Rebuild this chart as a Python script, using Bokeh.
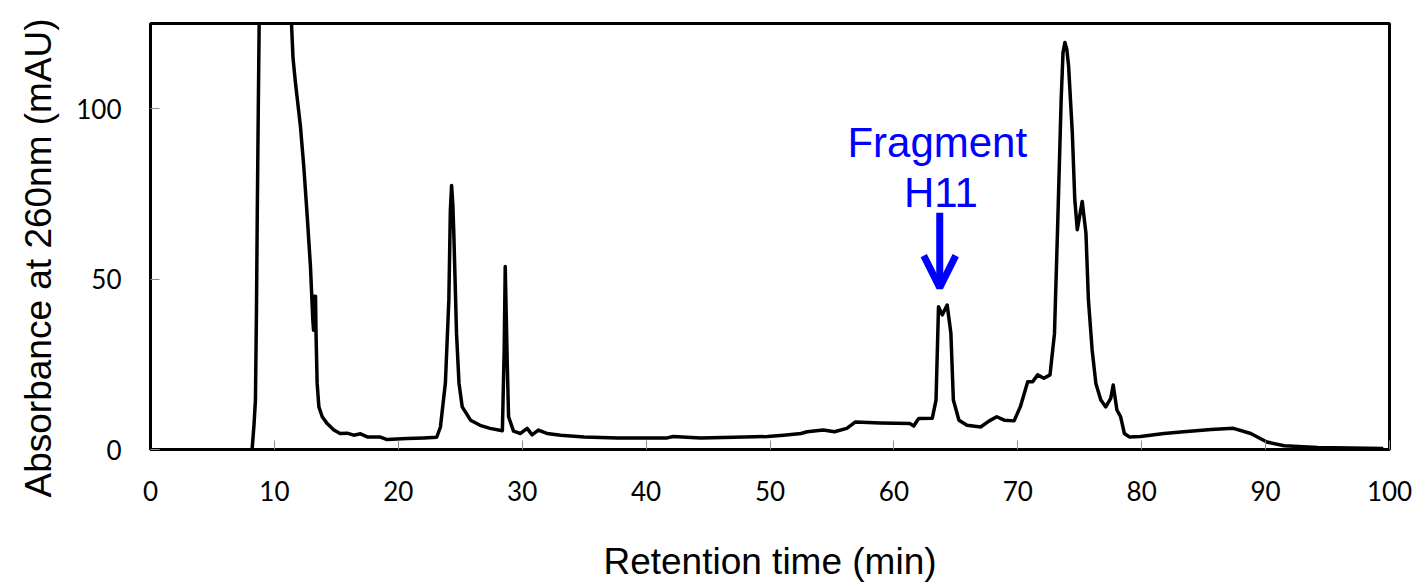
from bokeh.plotting import figure
from bokeh.models import FixedTicker, Label, Arrow, OpenHead, Range1d, Title
from bokeh.embed import file_html
from bokeh.resources import INLINE

# Retention time (min) and absorbance at 260 nm (mAU)
time_min = [8.2, 8.35, 8.47, 8.55, 8.62, 8.7, 8.77, 9.5, 10.5, 11.38, 11.5, 11.7,
            12.1, 12.37, 12.65, 12.91, 13.1, 13.16, 13.22, 13.32, 13.36, 13.45, 13.59,
            13.86, 14.26, 14.8, 15.3, 15.87, 16.4, 16.95, 17.5, 18.5, 19.1, 20.7,
            22.06, 23.1, 23.4, 23.8, 24.08, 24.2, 24.3, 24.4, 24.48, 24.7, 24.9, 25.16,
            25.83, 26.6, 27.4, 28.4, 28.55, 28.63, 28.8, 28.9, 29.3, 29.86, 30.4,
            30.8, 31.3, 32.0, 33.1, 35.0, 37.7, 41.7, 42.2, 44.4, 47.1, 49.8, 51.1,
            52.5, 53.0, 54.3, 55.2, 56.2, 56.9, 58.9, 61.3, 61.6, 62.0, 63.1, 63.4,
            63.6, 63.9, 64.3, 64.6, 64.8, 65.25, 65.9, 67.0, 67.7, 68.3, 68.9, 69.7,
            70.2, 70.8, 71.2, 71.6, 72.1, 72.6, 72.96, 73.2, 73.5, 73.65, 73.8, 73.95,
            74.1, 74.4, 74.6, 74.8, 75.2, 75.5, 75.7, 76.0, 76.3, 76.7, 77.1, 77.5,
            77.7, 78.0, 78.3, 78.6, 79.0, 79.9, 81.8, 83.4, 85.6, 87.4, 88.8, 90.1,
            91.5, 94.2, 99.5]
absorbance = [0.0, 7.0, 14.5, 40.0, 70.0, 100.0, 125.0, 200.0, 200.0, 125.0, 115.0, 107.6,
              94.9, 83.1, 68.4, 53.7, 38.0, 35.0, 45.0, 45.0, 34.0, 19.4, 12.5,
              9.6, 7.6, 5.7, 4.7, 4.8, 4.2, 4.6, 3.7, 3.7, 2.9, 3.2,
              3.4, 3.6, 6.6, 19.5, 43.9, 70.0, 77.5, 72.0, 63.5, 34.0, 19.4, 12.5,
              8.6, 7.1, 6.2, 5.5, 30.0, 53.7, 24.3, 9.6, 5.4, 4.7, 6.2,
              4.3, 5.7, 4.7, 4.2, 3.7, 3.4, 3.4, 3.8, 3.4, 3.6, 3.8, 4.2,
              4.7, 5.2, 5.7, 5.2, 6.2, 8.1, 7.8, 7.6, 6.9, 9.1, 9.2, 14.5,
              41.9, 39.5, 42.4, 34.1, 14.5, 8.6, 7.1, 6.6, 8.4, 9.6, 8.6, 8.4,
              12.5, 19.9, 19.9, 21.9, 20.9, 21.9, 34.0, 63.5, 102.7, 116.5, 119.4, 117.5,
              112.5, 92.9, 73.3, 64.5, 72.8, 63.5, 43.9, 29.2, 19.4, 14.5, 12.5, 15.0,
              18.9, 11.6, 9.6, 4.7, 3.7, 3.8, 4.7, 5.2, 5.9, 6.2, 4.7, 2.2,
              1.1, 0.6, 0.3]

x_ticks = [0, 10, 20, 30, 40, 50, 60, 70, 80, 90, 100]
y_ticks = [0, 50, 100]
x_title = "Retention time (min)"
y_title = "Absorbance at 260nm (mAU)"
annot_line1 = "Fragment"
annot_line2 = "H11"
annot_x = 63.7
annot_arrow_top = 69.5
annot_arrow_tip = 47.5

p = figure(width=1418, height=584, output_backend="svg", toolbar_location=None,
           x_range=Range1d(0, 100), y_range=Range1d(0, 125),
           min_border_left=150, min_border_right=29, min_border_top=23, min_border_bottom=135)
p.background_fill_color = "white"
p.border_fill_color = "white"
p.outline_line_color = "black"
p.outline_line_width = 3
p.grid.visible = False

for ax in (p.xaxis[0], p.yaxis[0]):
    ax.axis_line_color = "black"
    ax.axis_line_width = 3
    ax.major_tick_in = 9
    ax.major_tick_out = 0
    ax.major_tick_line_color = "#8c8c8c"
    ax.major_tick_line_width = 1
    ax.minor_tick_line_color = None
    ax.major_label_text_font = "Lato"
    ax.major_label_text_font_size = "26px"
    ax.major_label_text_color = "black"

p.xaxis.ticker = FixedTicker(ticks=x_ticks)
p.yaxis.ticker = FixedTicker(ticks=y_ticks)
p.xaxis.major_label_standoff = 31
p.yaxis.major_label_standoff = 29

p.xaxis.axis_label = x_title
p.xaxis.axis_label_text_font = "Liberation Sans"
p.xaxis.axis_label_text_font_size = "37px"
p.xaxis.axis_label_text_font_style = "normal"
p.xaxis.axis_label_text_color = "black"
p.xaxis.axis_label_standoff = 37

p.add_layout(Title(text=y_title, align="left", offset=-48, standoff=29, text_font="Liberation Sans",
                   text_font_size="37px", text_font_style="normal", text_color="black"), "left")

p.line(time_min, absorbance, line_color="black", line_width=3.5, line_join="round")

# annotation
p.add_layout(Label(x=annot_x - 0.2, y=90.1, text=annot_line1, text_align="center", text_baseline="alphabetic",
                   text_font="Liberation Sans", text_font_size="42px", text_color="#0000FF"))
p.add_layout(Label(x=annot_x + 0.1, y=75.4, text=annot_line2, text_align="center", text_baseline="alphabetic",
                   text_font="Liberation Sans", text_font_size="42px", text_color="#0000FF"))
p.add_layout(Arrow(x_start=annot_x, y_start=annot_arrow_top, x_end=annot_x, y_end=annot_arrow_tip,
                   line_color="#0000FF", line_width=7,
                   end=OpenHead(line_color="#0000FF", line_width=7, size=32)))

open("out.html", "w").write(file_html(p, INLINE))
